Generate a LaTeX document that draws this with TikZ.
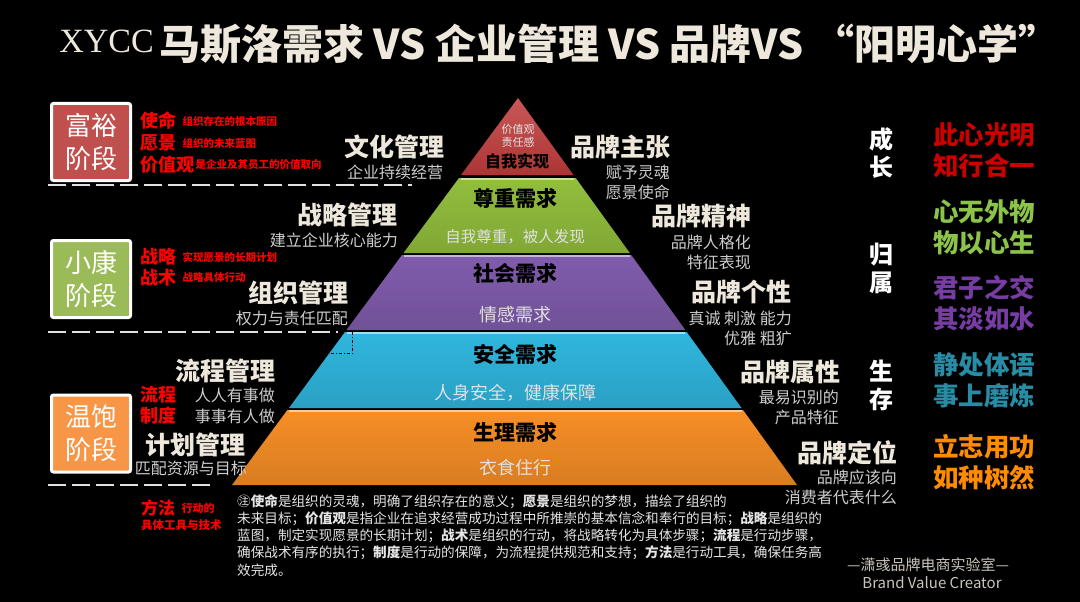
\documentclass[tikz,border=0pt]{standalone}
\usepackage{fontspec}
\setmainfont{Noto Sans CJK SC}
\newfontfamily\latinserif{Liberation Serif}
\usetikzlibrary{positioning, calc}

\definecolor{tierred}{RGB}{192,58,58}
\definecolor{tiergreen}{RGB}{146,190,61}
\definecolor{tierpurple}{RGB}{128,92,172}
\definecolor{tiercyan}{RGB}{48,182,222}
\definecolor{tierorange}{RGB}{246,142,38}
\definecolor{stagered}{RGB}{192,80,77}
\definecolor{stagegreen}{RGB}{155,187,89}
\definecolor{stageorange}{RGB}{247,150,70}
\definecolor{beige}{RGB}{238,232,220}
\definecolor{subgray}{RGB}{205,205,205}
\definecolor{keyred}{RGB}{255,0,0}
\definecolor{mottored}{RGB}{205,0,0}
\definecolor{mottogreen}{RGB}{140,195,75}
\definecolor{mottopurple}{RGB}{120,60,165}
\definecolor{mottoteal}{RGB}{40,140,165}
\definecolor{mottoorange}{RGB}{255,140,0}

\begin{document}
\begin{tikzpicture}[
    x=1pt, y=-1pt,
    % Styles
    heading/.style = {font=\bfseries\fontsize{25}{27}\selectfont, text=beige, inner sep=0pt},
    sub/.style = {font=\fontsize{16}{18}\selectfont, text=subgray, inner sep=0pt},
    stage/.style = {rectangle, rounded corners=2pt, draw=white, line width=3pt, minimum width=79pt, minimum height=77pt, inner sep=0pt, text=white, align=center, font=\fontsize{26}{33}\selectfont},
    key/.style = {font=\bfseries\fontsize{18}{20}\selectfont, text=keyred, inner sep=0pt, anchor=west},
    keynote/.style = {font=\bfseries\fontsize{10.5}{12}\selectfont, text=keyred, inner sep=0pt},
    tiertitle/.style = {font=\bfseries\fontsize{21}{23}\selectfont, text=black, inner sep=0pt},
    tiertext/.style = {font=\fontsize{18}{20}\selectfont, text=white!88!black, inner sep=0pt},
    phase/.style = {font=\bfseries\fontsize{24}{28}\selectfont, text=white, align=center, inner sep=0pt},
    motto/.style = {font=\bfseries\fontsize{25.5}{31}\selectfont, align=left, inner sep=0pt, anchor=west},
    divider/.style = {draw=white!88!black, line width=2pt, dash pattern=on 18pt off 6pt}
]

\useasboundingbox (0,0) rectangle (1080,602);
\fill[black] (0,0) rectangle (1080,602);

% --- TITLE ---
\node[font=\latinserif\fontsize{34}{36}\selectfont, text=beige, inner sep=0pt, anchor=east] (brand) at (154,41) {XYCC};
\node[font=\bfseries\fontsize{41}{43}\selectfont, text=beige, inner sep=0pt, anchor=west] (title) at (159,44) {马斯洛需求 VS 企业管理 VS 品牌VS “阳明心学”};

% --- PYRAMID ---
\shade[top color=tierred!85!white, bottom color=tierred!90!black] (518,98) -- (573.5,175) -- (461,175) -- cycle;
\foreach \ytop/\xtl/\xtr/\ybot/\xbl/\xbr/\col in {
    178/459/575.7/253/403.5/629.8/tiergreen,
    255/402/631.2/330/346.5/685.3/tierpurple,
    332/345/686.7/408/289/741.5/tiercyan,
    410/287.4/743/485/232/797/tierorange}
{
    \shade[top color=\col, bottom color=\col!88!black] (\xtl,\ytop) -- (\xtr,\ytop) -- (\xbr,\ybot) -- (\xbl,\ybot) -- cycle;
    \draw[\col!45!white, line width=2pt] (\xtl+1.5,\ytop+1) -- (\xtr-1.5,\ytop+1);
}

\node[font=\fontsize{11}{13}\selectfont, text=white!90!black, align=center, inner sep=0pt] (t1_text) at (518,136) {价值观\\责任感};
\node[tiertitle, font=\bfseries\fontsize{16}{18}\selectfont] (t1_title) at (517,161) {自我实现};
\node[tiertitle] (t2_title) at (515,198) {尊重需求};
\node[tiertext, font=\fontsize{15.5}{18}\selectfont] (t2_text) at (515,237) {自我尊重，被人发现};
\node[tiertitle] (t3_title) at (515,273) {社会需求};
\node[tiertext] (t3_text) at (515,315) {情感需求};
\node[tiertitle] (t4_title) at (515,355) {安全需求};
\node[tiertext] (t4_text) at (515,393) {人身安全，健康保障};
\node[tiertitle] (t5_title) at (515,432) {生理需求};
\node[tiertext] (t5_text) at (515,468) {衣食住行};

% --- STAGES ---
\node[stage, fill=stagered] (rich) at (91,142) {富裕\\阶段};
\node[stage, fill=stagegreen] (comfort) at (91,279) {小康\\阶段};
\node[stage, fill=stageorange] (warm) at (91,433.5) {温饱\\阶段};

\node[key] (mission) at (140,121) {使命};
\node[keynote, right=6pt of mission] (mission_note) {组织存在的根本原因};
\node[key] (vision) at (140,143) {愿景};
\node[keynote, right=6pt of vision] (vision_note) {组织的未来蓝图};
\node[key] (values) at (140,165) {价值观};
\node[keynote, right=1pt of values] (values_note) {是企业及其员工的价值取向};
\node[key] (strategy_key) at (140,257) {战略};
\node[keynote, right=6pt of strategy_key] (strategy_note) {实现愿景的长期计划};
\node[key] (tactic_key) at (140,278) {战术};
\node[keynote, right=6pt of tactic_key] (tactic_note) {战略具体行动};
\node[key] (flow_key) at (140,395) {流程};
\node[key] (rule_key) at (140,416) {制度};
\node[key, font=\bfseries\fontsize{17}{19}\selectfont] (method_key) at (141,508) {方法};
\node[keynote, font=\bfseries\fontsize{11}{13}\selectfont, right=6pt of method_key] (method_note) {行动的};
\node[keynote, font=\bfseries\fontsize{11.5}{13}\selectfont, anchor=west] (method_tools) at (141,525) {具体工具与技术};

\draw[divider] (48,185) -- (412,185);
\draw[divider] (48,332) -- (338,332);
\draw[divider] (48,485) -- (215,485);
\draw[black, line width=0.8pt, dash dot] (352,332) -- (352,353) -- (331,353);

% --- MANAGEMENT (left) ---
\node[heading] (culture) at (394,147) {文化管理};
\node[sub] (culture_sub) at (395,172) {企业持续经营};
\node[heading] (strategy) at (347,215) {战略管理};
\node[sub, anchor=east] (strategy_sub) at (398,240) {建立企业核心能力};
\node[heading] (organize) at (298,293) {组织管理};
\node[sub, anchor=east] (organize_sub) at (348,318) {权力与责任匹配};
\node[heading] (process) at (225,371) {流程管理};
\node[sub, anchor=east] (process_sub1) at (275,395) {人人有事做};
\node[sub, anchor=east] (process_sub2) at (275,416) {事事有人做};
\node[heading] (plan) at (195,445) {计划管理};
\node[sub, anchor=east] (plan_sub) at (247,468) {匹配资源与目标};

% --- BRAND (right) ---
\node[heading] (claim) at (620,147) {品牌主张};
\node[sub, anchor=east] (claim_sub1) at (670,172) {赋予灵魂};
\node[sub, anchor=east] (claim_sub2) at (670,192) {愿景使命};
\node[heading] (spirit) at (701,216) {品牌精神};
\node[sub, anchor=east] (spirit_sub1) at (751,242) {品牌人格化};
\node[sub, anchor=east] (spirit_sub2) at (751,262) {特征表现};
\node[heading] (persona) at (741,292) {品牌个性};
\node[sub, anchor=east] (persona_sub1) at (792,318) {真诚 刺激 能力};
\node[sub, anchor=east] (persona_sub2) at (792,338) {优雅 粗犷};
\node[heading] (attribute) at (790,372) {品牌属性};
\node[sub, anchor=east] (attribute_sub1) at (839,397) {最易识别的};
\node[sub, anchor=east] (attribute_sub2) at (839,417) {产品特征};
\node[heading] (position) at (847,453) {品牌定位};
\node[sub, anchor=east] (position_sub1) at (897,477) {品牌应该向};
\node[sub, anchor=east] (position_sub2) at (897,497) {消费者代表什么};

% --- YANGMING ---
\node[phase] (growth) at (881,153) {成\\长};
\node[phase] (belong) at (881,268) {归\\属};
\node[phase] (survive) at (881,385) {生\\存};

\node[motto, text=mottored] (motto1) at (933,150) {此心光明\\知行合一};
\node[motto, text=mottogreen] (motto2) at (933,227.5) {心无外物\\物以心生};
\node[motto, text=mottopurple] (motto3) at (933,303) {君子之交\\其淡如水};
\node[motto, text=mottoteal] (motto4) at (933,380) {静处体语\\事上磨炼};
\node[motto, text=mottoorange] (motto5) at (933,462.5) {立志用功\\如种树然};

% --- NOTE ---
\node[font=\fontsize{13.6}{17.3}\selectfont, text=white!90!black, align=left, inner sep=0pt, anchor=north west] (note) at (237,494) {㊟\textbf{使命}是组织的灵魂，明确了组织存在的意义；\textbf{愿景}是组织的梦想，描绘了组织的\\未来目标；\textbf{价值观}是指企业在追求经营成功过程中所推崇的基本信念和奉行的目标；\textbf{战略}是组织的\\蓝图，制定实现愿景的长期计划；\textbf{战术}是组织的行动，将战略转化为具体步骤；\textbf{流程}是行动步骤，\\确保战术有序的执行；\textbf{制度}是行动的保障，为流程提供规范和支持；\textbf{方法}是行动工具，确保任务高\\效完成。};

\node[font=\fontsize{15}{17}\selectfont, text=beige!85!black, inner sep=0pt] (lab) at (928,565) {—潇彧品牌电商实验室—};
\node[font=\fontsize{15}{17}\selectfont, text=beige!85!black, inner sep=0pt] (slogan) at (932,583) {Brand Value Creator};

\end{tikzpicture}
\end{document}
